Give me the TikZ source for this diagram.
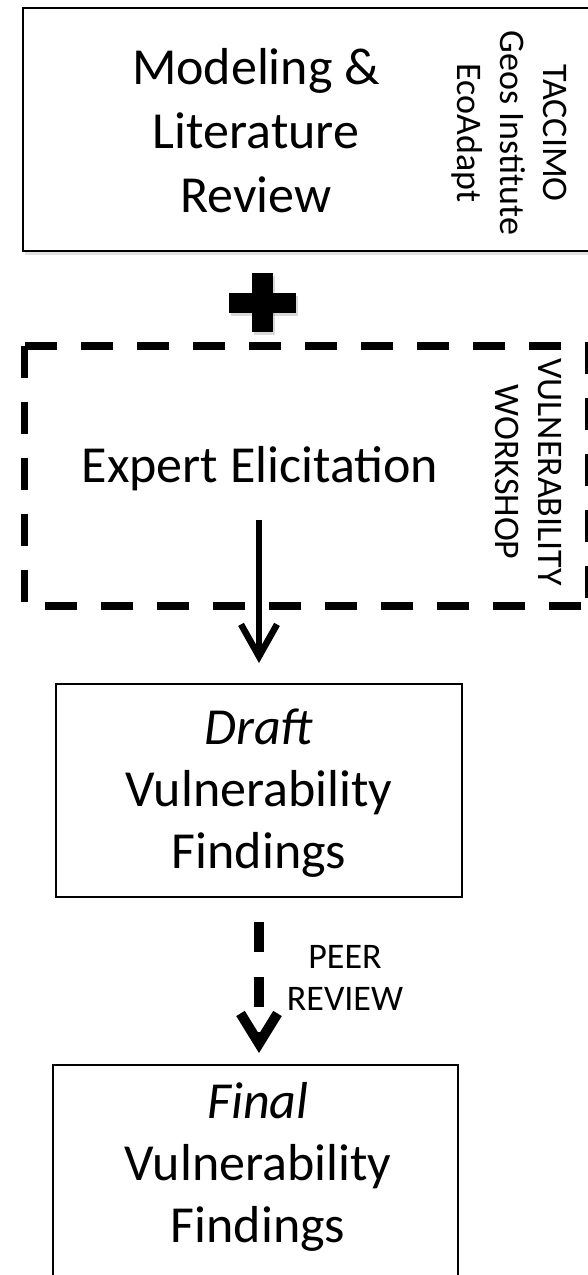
\documentclass[tikz,border=0pt]{standalone}
\usepackage{fontspec}
\setmainfont{Carlito}
\usetikzlibrary{arrows.meta}
\begin{document}
\begin{tikzpicture}[x=1pt,y=-1pt,
  solidbox/.style={draw=black, line width=2pt, fill=white, inner sep=0pt, outer sep=0pt},
  bigtext/.style={font=\fontsize{52}{62}\selectfont, align=center, inner sep=0pt},
  sidetext/.style={font=\fontsize{36}{43}\selectfont, align=center, inner sep=0pt, rotate=-90},
  dashedge/.style={line width=7.5pt, dash pattern=on 32pt off 24pt},
  solidarrow/.style={line width=6.5pt, -{Straight Barb[length=32pt,width=36pt]}},
  peerarrow/.style={line width=10pt, dash pattern=on 30pt off 25pt, -{Straight Barb[length=30pt,width=37pt]}}
]
\useasboundingbox (0,0) rectangle (588,1275);
\clip (0,0) rectangle (588,1275);

% top box
\fill[black, opacity=0.12] (25,12) rectangle (626,255);
\node[solidbox, line width=2.5pt, minimum width=600pt, minimum height=243pt] (modbox) at (323,129.5) {};
\node[bigtext, font=\fontsize{52}{64}\selectfont] (modtext) at (256,130.8) {Modeling \&\\Literature\\Review};
\node[sidetext] (orgs) at (509,133) {TACCIMO\\Geos Institute\\EcoAdapt};

% plus sign
\fill[black, opacity=0.15] (253.5,276) rectangle (274.5,335);
\fill[black, opacity=0.15] (230.5,296) rectangle (297.5,316);
\fill[black] (252,273) rectangle (273,332);
\fill[black] (229,293) rectangle (296,313);

% dashed workshop box
\coordinate (wTL) at (24.5,346);
\coordinate (wTR) at (588.5,346);
\coordinate (wBR) at (588.5,606);
\coordinate (wBL) at (24.5,606);
\draw[dashedge] (wTL) -- (wTR) -- (wBR);
\draw[dashedge] (wTL) -- (wBL) -- (wBR);
\node[bigtext, anchor=base] (expert) at (260,482) {Expert Elicitation};
\node[sidetext] (workshop) at (528.5,472) {VULNERABILITY\\WORKSHOP};

% draft box
\node[solidbox, minimum width=406pt, minimum height=213pt] (draft) at (259,790.5) {};
\node[bigtext] (drafttext) at (259,793.2) {\textit{Draft}\\Vulnerability\\Findings};

% final box
\node[solidbox, minimum width=405pt, minimum height=225pt] (final) at (255.5,1177.5) {};
\node[bigtext] (finaltext) at (258,1167) {\textit{Final}\\Vulnerability\\Findings};

% arrows
\draw[solidarrow, shorten <=29pt, shorten >=21pt] (expert.south -| draft.north) -- (draft.north);
\draw[peerarrow, shorten <=25pt, shorten >=12pt] (draft.south) -- (draft.south |- final.north);
\node[font=\fontsize{36}{42}\selectfont, align=center, inner sep=0pt] (peer) at (345,977.5) {PEER\\REVIEW};
\end{tikzpicture}
\end{document}
